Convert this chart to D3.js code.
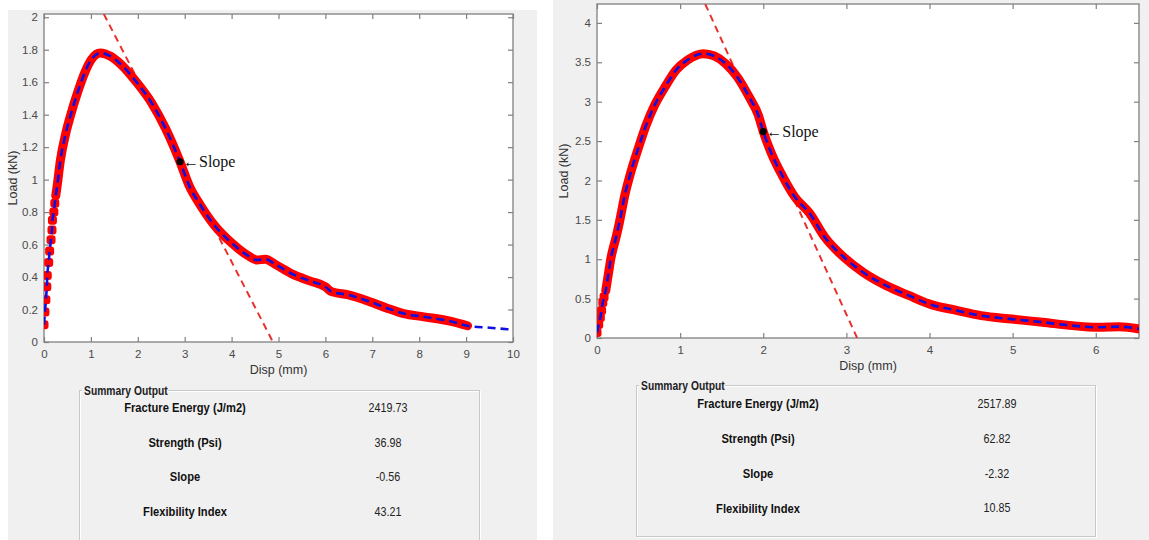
<!DOCTYPE html>
<html><head><meta charset="utf-8">
<script src="https://cdn.jsdelivr.net/npm/d3@7"></script>
<style>
html,body{margin:0;padding:0;background:#fff;}
svg{display:block;}
</style></head>
<body>
<svg id="c" width="1149" height="540"></svg>
<script>
// ---------- DATA ----------
// Sample A (left)
const dispA = [0,0.02,0.04,0.06,0.07,0.1,0.12,0.15,0.17,0.18,0.21,0.23,0.25,0.28,0.35,0.46,0.57,0.72,0.87,1.01,1.2,1.42,1.64,2.0,2.3,2.6,2.9,3.1,3.33,3.63,4.0,4.36,4.54,4.72,4.95,5.32,5.68,6.0,6.13,6.49,6.93,7.3,7.67,8.1,8.63,9.03];
const loadA = [0.107,0.185,0.26,0.34,0.41,0.49,0.56,0.63,0.69,0.75,0.80,0.855,0.90,0.96,1.12,1.28,1.40,1.54,1.66,1.74,1.78,1.76,1.71,1.59,1.47,1.31,1.11,0.96,0.845,0.72,0.61,0.53,0.505,0.51,0.475,0.415,0.375,0.34,0.31,0.29,0.25,0.21,0.175,0.155,0.13,0.10];
const fitTailDispA = [9.03,9.5,10];
const fitTailLoadA = [0.10,0.088,0.076];
const slopePointA = [2.9,1.11];
const slopeA = -0.56;
const tangentYA = [2.02,0];
const xTicksA = [0,1,2,3,4,5,6,7,8,9,10];
const yTicksA = ["0","0.2","0.4","0.6","0.8","1","1.2","1.4","1.6","1.8","2"];
const summaryLabels = ["Fracture Energy (J/m2)","Strength (Psi)","Slope","Flexibility Index"];
const summaryA = ["2419.73","36.98","-0.56","43.21"];

// Sample B (right)
const dispB = [0,0.02,0.04,0.055,0.07,0.085,0.105,0.12,0.135,0.15,0.165,0.19,0.22,0.245,0.27,0.30,0.33,0.40,0.50,0.59,0.70,0.82,0.95,1.09,1.28,1.41,1.55,1.69,1.83,1.94,2.0,2.10,2.24,2.38,2.56,2.74,2.97,3.2,3.48,3.75,4.03,4.3,4.62,4.99,5.36,5.72,6.0,6.28,6.53];
const loadB = [0.07,0.17,0.26,0.35,0.45,0.52,0.60,0.70,0.80,0.90,1.0,1.12,1.24,1.35,1.47,1.63,1.79,2.08,2.42,2.70,2.97,3.19,3.40,3.53,3.61,3.58,3.48,3.31,3.06,2.83,2.62,2.34,2.04,1.79,1.58,1.28,1.025,0.835,0.665,0.54,0.42,0.356,0.284,0.24,0.20,0.157,0.136,0.144,0.114];
const fitTailDispB = [];
const fitTailLoadB = [];
const slopePointB = [2.0,2.62];
const slopeB = -2.32;
const tangentYB = [4.24,0];
const xTicksB = [0,1,2,3,4,5,6];
const yTicksB = ["0","0.5","1","1.5","2","2.5","3","3.5","4"];
const summaryB = ["2517.89","62.82","-2.32","10.85"];

// ---------- DRAW ----------
const svg = d3.select("#c");
svg.append("rect").attr("width",1149).attr("height",540).attr("fill","#ffffff");
const NARROW = 0.86;

function condensed(parent, x, y, str, opts){
  const g = parent.append("g").attr("transform",`translate(${x},${y}) scale(${NARROW},1)`);
  const t = g.append("text").attr("x",0).attr("y",0).attr("text-anchor",opts.anchor||"middle").attr("dominant-baseline",opts.baseline||"middle")
    .attr("font-family","Liberation Sans, Arial, sans-serif").attr("font-weight",opts.weight||"normal").attr("font-size",opts.size).attr("fill",opts.fill||"#111").text(str);
  return g;
}

function panel(cfg){
  const g = svg.append("g");
  g.append("rect").attr("x",cfg.bg[0]).attr("y",cfg.bg[1]).attr("width",cfg.bg[2]).attr("height",cfg.bg[3]).attr("fill","#f0f0f0");
  const x = d3.scaleLinear().domain(cfg.xDom).range([cfg.L,cfg.R]);
  const y = d3.scaleLinear().domain(cfg.yDom).range([cfg.B,cfg.T]);
  g.append("rect").attr("x",cfg.L).attr("y",cfg.T).attr("width",cfg.R-cfg.L).attr("height",cfg.B-cfg.T).attr("fill","#fff");
  const clipId = "clip"+cfg.id;
  g.append("clipPath").attr("id",clipId).append("rect").attr("x",cfg.L).attr("y",cfg.T).attr("width",cfg.R-cfg.L).attr("height",cfg.B-cfg.T);
  const axCol="#808080", txtCol="#4a4a4a";
  const tickLen=5;
  const xt = cfg.xTicks, yt = cfg.yTicks.map(Number);
  const axB = g.append("g").attr("transform",`translate(0,${cfg.B})`).call(d3.axisBottom(x).tickValues(xt).tickSizeInner(-tickLen).tickSizeOuter(0).tickPadding(8).tickFormat(d=>String(d)));
  const axT = g.append("g").attr("transform",`translate(0,${cfg.T})`).call(d3.axisTop(x).tickValues(xt).tickSizeInner(-tickLen).tickSizeOuter(0).tickFormat(""));
  const axL = g.append("g").attr("transform",`translate(${cfg.L},0)`).call(d3.axisLeft(y).tickValues(yt).tickSizeInner(-tickLen).tickSizeOuter(0).tickPadding(6).tickFormat((d,i)=>cfg.yTicks[i]));
  const axR = g.append("g").attr("transform",`translate(${cfg.R},0)`).call(d3.axisRight(y).tickValues(yt).tickSizeInner(-tickLen).tickSizeOuter(0).tickFormat(""));
  [axB,axT,axL,axR].forEach(a=>{
    a.select(".domain").remove();
    a.selectAll(".tick line").attr("stroke",axCol).attr("stroke-width",1.2);
    a.selectAll("text").attr("fill",txtCol).attr("font-family","Liberation Sans, Arial, sans-serif").attr("font-size",11.5);
  });
  g.append("rect").attr("x",cfg.L).attr("y",cfg.T).attr("width",cfg.R-cfg.L).attr("height",cfg.B-cfg.T).attr("fill","none").attr("stroke",axCol).attr("stroke-width",1.3);
  g.append("text").attr("x",(cfg.L+cfg.R)/2).attr("y",cfg.B+32).attr("text-anchor","middle").attr("fill","#333")
    .attr("font-family","Liberation Sans, Arial, sans-serif").attr("font-size",12.5).text("Disp (mm)");
  g.append("text").attr("transform",`translate(${cfg.L-cfg.ylabOff},${(cfg.T+cfg.B)/2}) rotate(-90)`).attr("text-anchor","middle").attr("fill","#333")
    .attr("font-family","Liberation Sans, Arial, sans-serif").attr("font-size",12.5).text("Load (kN)");

  const pts = cfg.disp.map((d,i)=>[d,cfg.load[i]]);
  const plot = g.append("g").attr("clip-path",`url(#${clipId})`);
  const line = d3.line().x(d=>x(d[0])).y(d=>y(d[1])).curve(d3.curveMonotoneX);
  const [sx,sy] = cfg.slopePt;
  const tan = cfg.tanY.map(v=>[sx+(v-sy)/cfg.slope, v]);
  plot.append("path").attr("d",d3.line().x(d=>x(d[0])).y(d=>y(d[1]))(tan))
    .attr("fill","none").attr("stroke","#e8322e").attr("stroke-width",2).attr("stroke-dasharray","7,5");
  const dense = pts.filter(p=>p[0]>=cfg.denseFrom);
  plot.append("path").attr("d",line(dense)).attr("fill","none").attr("stroke","#ff0000").attr("stroke-width",9).attr("stroke-linejoin","round").attr("stroke-linecap","round");
  plot.selectAll("rect.m").data(pts.filter(p=>p[0]<cfg.denseFrom)).join("rect").attr("class","m")
    .attr("x",d=>x(d[0])-4.5).attr("y",d=>y(d[1])-4.5).attr("width",9).attr("height",9).attr("rx",3).attr("fill","#ff0000");
  const fit = pts.concat(cfg.tailDisp.map((d,i)=>[d,cfg.tailLoad[i]]).filter(p=>p[0]>pts[pts.length-1][0]));
  plot.append("path").attr("d",line(fit)).attr("fill","none").attr("stroke","#1010e0").attr("stroke-width",2.6).attr("stroke-dasharray","8,5");
  plot.append("circle").attr("cx",x(sx)).attr("cy",y(sy)).attr("r",3.6).attr("fill","#000");
  g.append("text").attr("x",x(sx)+3).attr("y",y(sy)+5).attr("font-family","Liberation Serif, Times New Roman, serif").attr("font-size",16).attr("fill","#111").text("\u2190Slope");

  // summary box
  const s = cfg.box;
  const bg = g.append("g");
  bg.append("rect").attr("x",s.x+0.5).attr("y",s.y+0.5).attr("width",s.w).attr("height",s.h).attr("fill","none").attr("stroke","#fff").attr("stroke-width",1);
  bg.append("rect").attr("x",s.x-0.5).attr("y",s.y-0.5).attr("width",s.w).attr("height",s.h).attr("fill","none").attr("stroke","#c8c8c8").attr("stroke-width",1);
  bg.append("rect").attr("x",s.x+2).attr("y",s.y-7).attr("width",86).attr("height",14).attr("fill","#f0f0f0");
  condensed(bg, s.x+4, s.y+1, "Summary Output", {anchor:"start", weight:"bold", size:12, fill:"#222"});
  summaryLabels.forEach((lab,i)=>{
    condensed(bg, s.labX, s.row0+i*s.rowH, lab, {weight:"bold", size:13, fill:"#111"});
    condensed(bg, s.valX, s.row0+i*s.rowH, cfg.summary[i], {size:12.5, fill:"#222"});
  });
}

panel({id:"A", bg:[8,10,529,530], L:44,R:513,T:14,B:342, xDom:[0,10], yDom:[0,2.02], xTicks:xTicksA, yTicks:yTicksA,
  disp:dispA, load:loadA, tailDisp:fitTailDispA, tailLoad:fitTailLoadA, slopePt:slopePointA, slope:slopeA, tanY:tangentYA,
  denseFrom:0.24, ylabOff:27, summary:summaryA,
  box:{x:80,y:391,w:400,h:160,labX:185,valX:388,row0:409,rowH:34.5}});
panel({id:"B", bg:[553,0,596,540], L:597,R:1139,T:4,B:338, xDom:[0,6.52], yDom:[0,4.24], xTicks:xTicksB, yTicks:yTicksB,
  disp:dispB, load:loadB, tailDisp:fitTailDispB, tailLoad:fitTailLoadB, slopePt:slopePointB, slope:slopeB, tanY:tangentYB,
  denseFrom:0.1, ylabOff:29, summary:summaryB,
  box:{x:637,y:386,w:459,h:151,labX:758,valX:997,row0:405,rowH:34.7}});
</script>
</body></html>
